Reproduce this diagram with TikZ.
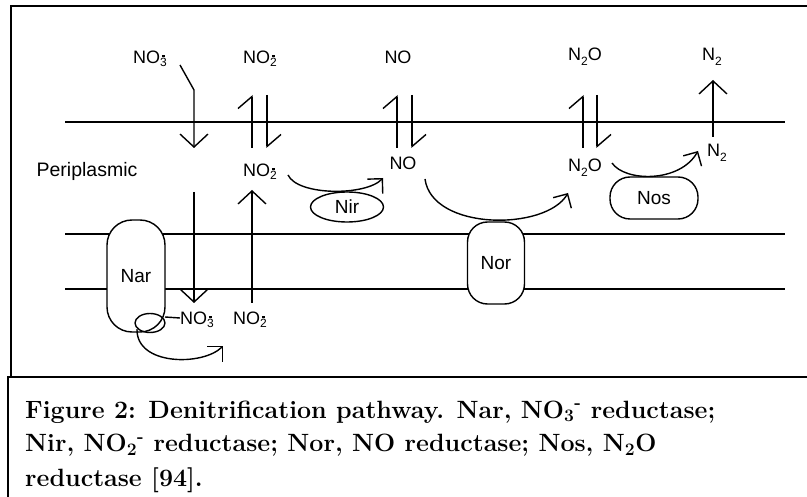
\documentclass[tikz,border=0pt]{standalone}
\usepackage{fontspec}
\newfontfamily\diagfont{Liberation Sans}
\usetikzlibrary{arrows.meta,shapes.geometric}
\newcommand{\ssb}[2]{{\fontsize{12}{12}\selectfont\ooalign{\raisebox{-0.5ex}{#1}\cr\hfil\raisebox{1.05ex}{\rule{3.5pt}{1.3pt}}\hfil\cr}}}
\newcommand{\lowsub}[1]{\raisebox{-0.5ex}{\fontsize{12}{12}\selectfont #1}}
\begin{document}
\begin{tikzpicture}[x=1pt,y=-1pt,
  ln/.style={line width=1.4pt},
  mem/.style={line width=1.2pt},
  frame/.style={line width=2pt},
  hd/.style={ln,-{Straight Barb[length=13pt,width=28pt]}},
  hpl/.style={ln,-{Straight Barb[length=12pt,width=28pt,left]}},
  cv/.style={ln,-{Straight Barb[length=10.5pt,width=21pt]}},
  sp/.style={inner sep=0pt,font=\diagfont\fontsize{18}{18}\selectfont},
  enz/.style={draw,ln,fill=white,inner sep=0pt,font=\diagfont\fontsize{19}{19}\selectfont},
  captxt/.style={anchor=base west,inner sep=0pt,font=\bfseries\fontsize{25}{25}\selectfont}
]
\useasboundingbox (0,0) rectangle (807,497);
% frame
\draw[frame] (11,377) -- (11,6) -- (812,6);
\draw[frame] (8,500) -- (8,377) -- (812,377);
% membranes
\draw[mem] (65,122) -- (785,122);
\draw[mem] (65,234) -- (785,234);
\draw[mem] (65,289) -- (785,289);
% labels
\node[sp] (no3t) at (150,57) {NO\ssb{3}{-}};
\node[sp] (no2t) at (260,57) {NO\ssb{2}{-}};
\node[sp] (nott) at (398,57) {NO};
\node[sp] (n2ot) at (585,57) {N\lowsub{2}O};
\node[sp] (n2t)  at (712,57) {N\lowsub{2}};
\node[sp] (no2m) at (260,170) {NO\ssb{2}{-}};
\node[sp] (nom)  at (403,163) {NO};
\node[sp] (n2om) at (585,168) {N\lowsub{2}O};
\node[sp] (n2m)  at (717,153) {N\lowsub{2}};
\node[sp] (no3b) at (197,318) {NO\ssb{3}{-}};
\node[sp] (no2b) at (250,318) {NO\ssb{2}{-}};
\node[inner sep=0pt,font=\diagfont\fontsize{19.5}{19.5}\selectfont] (peri) at (87,171) {Periplasmic};
% enzymes
\node[enz,rounded corners=25pt,minimum width=58pt,minimum height=112pt] (nar) at (136,276) {Nar};
\node[enz,rounded corners=20pt,minimum width=57pt,minimum height=82pt] (nor) at (496,263) {Nor};
\node[enz,ellipse,minimum width=73pt,minimum height=30pt] (nir) at (347,207) {Nir};
\node[enz,rounded corners=20pt,minimum width=88pt,minimum height=42pt] (nos) at (654,198) {Nos};
% coordinates
\coordinate (a0) at (180,65); \coordinate (a1) at (194,90); \coordinate (a2) at (194,148);
\coordinate (b0) at (252,148); \coordinate (b1) at (252,95);
\coordinate (c0) at (267,95); \coordinate (c1) at (267,148);
\coordinate (d0) at (397,148); \coordinate (d1) at (397,95);
\coordinate (e0) at (412,95); \coordinate (e1) at (412,148);
\coordinate (f0) at (583,148); \coordinate (f1) at (583,95);
\coordinate (g0) at (597,95); \coordinate (g1) at (597,148);
\coordinate (h0) at (713,137); \coordinate (h1) at (713,80);
\coordinate (i0) at (194,192); \coordinate (i1) at (194,303);
\coordinate (j0) at (252,303); \coordinate (j1) at (252,190);
% transport arrows
\draw[hd] (a0) -- (a1) -- (a2);
\draw[hpl] (b0) -- (b1);
\draw[hpl] (c0) -- (c1);
\draw[hpl] (d0) -- (d1);
\draw[hpl] (e0) -- (e1);
\draw[hpl] (f0) -- (f1);
\draw[hpl] (g0) -- (g1);
\draw[hd] (h0) -- (h1);
\draw[hd] (i0) -- (i1);
\draw[hd] (j0) -- (j1);
% reaction curves
\coordinate (nirs) at (288,175); \coordinate (nire) at (383,178);
\draw[cv] (nirs) .. controls (298,196) and (366,196) .. (nire);
\coordinate (nors) at (425,179); \coordinate (nore) at (568,193);
\draw[cv] (nors) .. controls (432,231) and (546,231) .. (nore);
\coordinate (noss) at (612,163); \coordinate (nose) at (698,151);
\draw[cv] (noss) .. controls (625,182) and (680,183) .. (nose);
% Nar loop
\coordinate (l0) at (165,317); \coordinate (l1) at (137,329); \coordinate (l2) at (223,346);
\draw[ln] (no3b.west) -- (l0);
\draw[ln] (150,323) ellipse [x radius=15, y radius=9.5];
\draw[cv] (l1) .. controls (136,366) and (203,366) .. (l2);
% caption
\node[captxt] (cap1) at (25,418) {Figure 2: Denitrification pathway. Nar, NO\textsubscript{3}\textsuperscript{-} reductase;};
\node[captxt] (cap2) at (25,452) {Nir, NO\textsubscript{2}\textsuperscript{-} reductase; Nor, NO reductase; Nos, N\textsubscript{2}O};
\node[captxt] (cap3) at (25,486) {reductase [94].};
\end{tikzpicture}
\end{document}
